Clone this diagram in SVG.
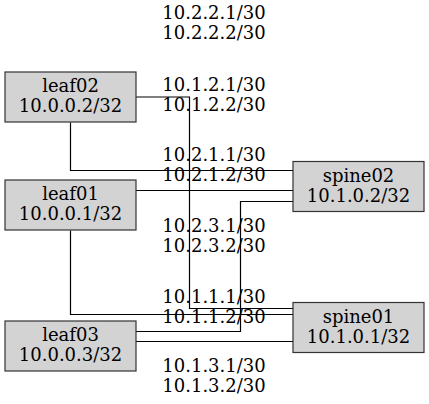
<svg xmlns="http://www.w3.org/2000/svg" width="429" height="404" viewBox="0 0 429 404">
<style>
.box{fill:#d3d3d3;stroke:#333;stroke-width:1.2}
text{font-family:"DejaVu Serif",serif;font-size:18px;fill:#000;text-anchor:middle}
.e{fill:none;stroke:#000;stroke-width:1.2}
</style>
<rect width="429" height="404" fill="#fff"/>
<g id="connectors">
<polyline class="e" points="136,97 189.5,97 189.5,308.5 293,308.5"/>
<polyline class="e" points="70.5,122.5 70.5,170.5 293,170.5"/>
<polyline class="e" points="136,190.5 293,190.5"/>
<polyline class="e" points="70.5,230.5 70.5,314.5 293,314.5"/>
<polyline class="e" points="136,331.5 240.5,331.5 240.5,201.5 293,201.5"/>
<polyline class="e" points="136,341.5 293,341.5"/>
</g>
<g id="labels">
<text x="214" y="19">10.2.2.1/30</text>
<text x="214" y="39">10.2.2.2/30</text>
<text x="214" y="91">10.1.2.1/30</text>
<text x="214" y="111">10.1.2.2/30</text>
<text x="214" y="161">10.2.1.1/30</text>
<text x="214" y="181">10.2.1.2/30</text>
<text x="214" y="232">10.2.3.1/30</text>
<text x="214" y="252">10.2.3.2/30</text>
<text x="214" y="303">10.1.1.1/30</text>
<text x="214" y="323">10.1.1.2/30</text>
<text x="214" y="372">10.1.3.1/30</text>
<text x="214" y="392">10.1.3.2/30</text>
</g>
<g id="leaf02">
<rect class="box" x="5" y="72" width="131" height="50"/>
<text x="70.5" y="92">leaf02</text>
<text x="70.5" y="112">10.0.0.2/32</text>
</g>
<g id="leaf01">
<rect class="box" x="5" y="180" width="131" height="50"/>
<text x="70.5" y="200">leaf01</text>
<text x="70.5" y="220">10.0.0.1/32</text>
</g>
<g id="leaf03">
<rect class="box" x="5" y="321" width="131" height="50"/>
<text x="70.5" y="341">leaf03</text>
<text x="70.5" y="361">10.0.0.3/32</text>
</g>
<g id="spine02">
<rect class="box" x="293" y="161.5" width="131" height="50"/>
<text x="358.5" y="182">spine02</text>
<text x="358.5" y="202">10.1.0.2/32</text>
</g>
<g id="spine01">
<rect class="box" x="293" y="302.5" width="131" height="50"/>
<text x="358.5" y="323">spine01</text>
<text x="358.5" y="343">10.1.0.1/32</text>
</g>
</svg>
